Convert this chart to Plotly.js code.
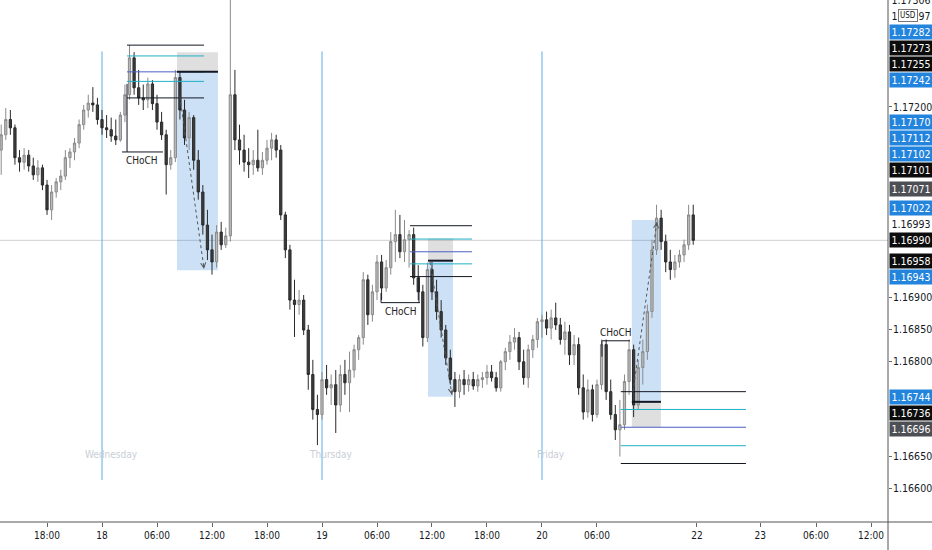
<!DOCTYPE html>
<html>
<head>
<meta charset="utf-8">
<script src="https://cdn.plot.ly/plotly-3.0.1.min.js"></script>
<style>
  html, body { margin: 0; padding: 0; background: #fff; }
  #chart { width: 932px; height: 550px; }
</style>
</head>
<body>
<div id="chart"></div>
<script>
/* EURUSD 30m candles, Tue 13:00 -> Fri 16:30 (x = hours from Wed 00:00)
   with three order-block / CHoCH drawings and the stacked price-axis labels. */

// ---- candles ----
const open = [
  1.17132,1.17156,1.17180,1.17167,1.17120,1.17113,1.17124,1.17107,1.17093,1.17104,
  1.17077,1.17038,1.17066,1.17082,1.17091,1.17120,1.17129,1.17143,1.17172,1.17195,
  1.17206,1.17203,1.17180,1.17167,1.17164,1.17154,1.17148,1.17187,1.17219,1.17277,
  1.17230,1.17214,1.17211,1.17236,1.17205,1.17176,1.17156,1.17109,1.17120,1.17246,
  1.17195,1.17151,1.17183,1.17116,1.17066,1.17014,1.16975,1.16956,1.17003,1.16983,
  1.16997,1.17219,1.17148,1.17132,1.17113,1.17109,1.17116,1.17104,1.17116,1.17135,
  1.17148,1.17132,1.17030,1.16975,1.16896,1.16889,1.16896,1.16849,1.16779,1.16724,
  1.16716,1.16771,1.16758,1.16763,1.16731,1.16779,1.16766,1.16786,1.16818,1.16837,
  1.16928,1.16873,1.16909,1.16956,1.16915,1.16947,1.16988,1.16999,1.16972,1.16991,
  1.16999,1.16931,1.16909,1.16837,1.16944,1.16909,1.16878,1.16849,1.16805,1.16771,
  1.16752,1.16771,1.16763,1.16771,1.16761,1.16771,1.16774,1.16783,1.16774,1.16758,
  1.16799,1.16815,1.16830,1.16837,1.16799,1.16774,1.16818,1.16834,1.16862,1.16865,
  1.16852,1.16868,1.16857,1.16834,1.16846,1.16810,1.16826,1.16758,1.16720,1.16755,
  1.16716,1.16763,1.16826,1.16752,1.16716,1.16692,1.16700,1.16768,1.16818,1.16731,
  1.16790,1.16815,1.16878,1.16975,1.17025,1.16988,1.16956,1.16944,1.16956,1.16967,
  1.16983,1.17030
];
const high = [
  1.17172,1.17198,1.17195,1.17172,1.17132,1.17135,1.17132,1.17120,1.17116,1.17109,
  1.17085,1.17077,1.17088,1.17101,1.17132,1.17135,1.17151,1.17180,1.17203,1.17219,
  1.17231,1.17214,1.17195,1.17187,1.17183,1.17180,1.17192,1.17235,1.17297,1.17286,
  1.17258,1.17235,1.17246,1.17242,1.17219,1.17192,1.17164,1.17132,1.17258,1.17255,
  1.17211,1.17192,1.17187,1.17132,1.17077,1.17038,1.16999,1.17014,1.17019,1.17010,
  1.17400,1.17258,1.17172,1.17156,1.17135,1.17132,1.17164,1.17129,1.17148,1.17159,
  1.17156,1.17140,1.17035,1.16983,1.16928,1.16912,1.16904,1.16857,1.16802,1.16747,
  1.16783,1.16794,1.16779,1.16786,1.16794,1.16802,1.16815,1.16826,1.16841,1.16940,
  1.16936,1.16920,1.16967,1.16967,1.16959,1.17003,1.17038,1.17030,1.17022,1.17006,
  1.17010,1.16951,1.16920,1.16955,1.16956,1.16928,1.16896,1.16857,1.16818,1.16783,
  1.16779,1.16786,1.16779,1.16783,1.16779,1.16783,1.16794,1.16794,1.16783,1.16802,
  1.16821,1.16841,1.16852,1.16846,1.16818,1.16826,1.16841,1.16868,1.16873,1.16878,
  1.16881,1.16892,1.16868,1.16862,1.16857,1.16841,1.16837,1.16779,1.16771,1.16763,
  1.16771,1.16834,1.16834,1.16771,1.16731,1.16739,1.16779,1.16834,1.16826,1.16802,
  1.16834,1.16889,1.16991,1.17046,1.17038,1.16999,1.16975,1.16967,1.16975,1.16991,
  1.17046,1.17046
];
const low = [
  1.17093,1.17148,1.17156,1.17109,1.17098,1.17101,1.17098,1.17085,1.17082,1.17069,
  1.17030,1.17022,1.17057,1.17069,1.17085,1.17104,1.17116,1.17135,1.17164,1.17183,
  1.17192,1.17172,1.17156,1.17151,1.17145,1.17140,1.17145,1.17176,1.17211,1.17219,
  1.17203,1.17195,1.17198,1.17195,1.17164,1.17148,1.17062,1.17101,1.17113,1.17180,
  1.17140,1.17132,1.17101,1.17054,1.16999,1.16959,1.16936,1.16947,1.16975,1.16978,
  1.16988,1.17132,1.17109,1.17098,1.17088,1.17093,1.17098,1.17093,1.17109,1.17116,
  1.17120,1.17022,1.16962,1.16881,1.16838,1.16873,1.16841,1.16755,1.16708,1.16668,
  1.16708,1.16747,1.16731,1.16687,1.16720,1.16747,1.16720,1.16774,1.16802,1.16826,
  1.16857,1.16862,1.16896,1.16896,1.16909,1.16936,1.16956,1.16962,1.16956,1.16947,
  1.16920,1.16896,1.16823,1.16830,1.16896,1.16865,1.16837,1.16794,1.16763,1.16728,
  1.16742,1.16747,1.16752,1.16755,1.16752,1.16758,1.16763,1.16768,1.16752,1.16752,
  1.16786,1.16802,1.16818,1.16786,1.16763,1.16758,1.16805,1.16821,1.16837,1.16841,
  1.16834,1.16849,1.16826,1.16810,1.16794,1.16794,1.16747,1.16708,1.16711,1.16705,
  1.16711,1.16755,1.16739,1.16708,1.16676,1.16650,1.16692,1.16747,1.16712,1.16724,
  1.16763,1.16802,1.16868,1.16967,1.16975,1.16940,1.16928,1.16931,1.16947,1.16956,
  1.16975,1.16983
];
const close = [
  1.17156,1.17180,1.17167,1.17120,1.17113,1.17124,1.17107,1.17093,1.17104,1.17077,
  1.17038,1.17066,1.17082,1.17091,1.17120,1.17129,1.17143,1.17172,1.17195,1.17206,
  1.17203,1.17180,1.17167,1.17164,1.17154,1.17148,1.17187,1.17219,1.17277,1.17230,
  1.17214,1.17211,1.17236,1.17205,1.17176,1.17156,1.17109,1.17120,1.17246,1.17195,
  1.17151,1.17183,1.17116,1.17066,1.17014,1.16975,1.16956,1.17003,1.16983,1.16997,
  1.17219,1.17148,1.17132,1.17113,1.17109,1.17116,1.17104,1.17116,1.17135,1.17148,
  1.17132,1.17030,1.16975,1.16896,1.16889,1.16896,1.16849,1.16779,1.16724,1.16716,
  1.16771,1.16758,1.16763,1.16731,1.16779,1.16766,1.16786,1.16818,1.16837,1.16928,
  1.16873,1.16909,1.16956,1.16915,1.16947,1.16988,1.16999,1.16972,1.16991,1.16999,
  1.16931,1.16909,1.16837,1.16944,1.16909,1.16878,1.16849,1.16805,1.16771,1.16752,
  1.16771,1.16763,1.16771,1.16761,1.16771,1.16774,1.16783,1.16774,1.16758,1.16799,
  1.16815,1.16830,1.16837,1.16799,1.16774,1.16818,1.16834,1.16862,1.16865,1.16852,
  1.16868,1.16857,1.16834,1.16846,1.16810,1.16826,1.16758,1.16720,1.16755,1.16716,
  1.16763,1.16826,1.16752,1.16716,1.16692,1.16700,1.16768,1.16818,1.16731,1.16790,
  1.16815,1.16878,1.16975,1.17025,1.16988,1.16956,1.16944,1.16956,1.16967,1.16983,
  1.17030,1.16990
];
const FIRST_BAR_HOUR = -11;   // Tue 13:00
const BAR_HOURS = 0.5;        // 30-minute bars
const barTime = close.map((_, i) => FIRST_BAR_HOUR + i * BAR_HOURS);

// ---- time axis ----
const xTickVals = [-6, 0, 6, 12, 18, 24, 30, 36, 42, 48, 54, 64.9, 71.8, 77.9, 83.9];
const xTickText = ["18:00", "18", "06:00", "12:00", "18:00", "19", "06:00", "12:00", "18:00", "20", "06:00", "22", "23", "06:00", "12:00"];
const sessionStart = [0, 24, 48];
const sessionName = ["Wednesday", "Thursday", "Friday"];

// ---- price axis ----
const yTickVals = [1.1660, 1.1665, 1.1680, 1.1685, 1.1690, 1.1720];
const lastPrice = 1.16990;
const axisLabels = [1.17306, 1.17297, 1.17282, 1.17273, 1.17255, 1.17242, 1.17170, 1.17112, 1.17102,
  1.17101, 1.17071, 1.17022, 1.16993, 1.16990, 1.16958, 1.16943, 1.16744, 1.16736, 1.16696];
const axisLabelKind = ["plain", "plain", "blue", "black", "black", "blue", "blue", "blue", "blue",
  "black", "grey", "blue", "plain", "black", "black", "blue", "blue", "black", "grey"];

// ---- drawings: one entry per day (Wed, Thu, Fri) ----
const levelStart = [2.73, 33.6, 56.6];
const levelEnd = [11.13, 40.36, 70.25];
const levelsWed = [1.17297, 1.17280, 1.17255, 1.17240, 1.17214];
const levelsThu = [1.17013, 1.16992, 1.16972, 1.16953, 1.16933];
const levelsFri = [1.16752, 1.16724, 1.16696, 1.16667, 1.16639];
const boxStart = [8.18, 35.56, 57.8];
const boxEnd = [12.65, 38.29, 60.98];
const greyTop = [1.17286, 1.16993, 1.16736];
const greyBottom = [1.17255, 1.16958, 1.16696];
const blueTop = [1.17255, 1.16958, 1.17022];
const blueBottom = [1.16943, 1.16744, 1.16736];
const entryLevel = [1.17255, 1.16958, 1.16736];
const moveX0 = [8.5, 35.78, 57.93];
const moveY0 = [1.17216, 1.16956, 1.16752];
const moveX1 = [11.13, 38.18, 60.54];
const moveY1 = [1.16945, 1.16747, 1.17019];
const chochX0 = [2.18, 30.44, 54.54];
const chochX1 = [6.65, 34.69, 57.6];
const chochY = [1.17129, 1.16892, 1.16832];
const chochBelow = [true, true, false];
const tickX = [2.73, 30.44, 34.58, 54.54];
const tickY0 = [1.17236, 1.16907, 1.16933, 1.16832];
const tickY1 = [1.17129, 1.16892, 1.16892, 1.16807];

// ---- styling ----
const W = 932, H = 550;
const M = { l: 0, r: 44, t: 0, b: 28 };
const plotW = W - M.l - M.r, plotH = H - M.t - M.b;
const X_RANGE = [-11.13, 85.75];
const Y_RANGE = [1.16547, 1.17368];
const FONT = "DejaVu Sans Condensed, Liberation Sans Narrow, Arial Narrow, sans-serif";
const INK = "#131722";
const levelColor = [INK, "#1fb1c6", "#4b5fc3", "#1fb1c6", INK];
const labelBg = { blue: "#2284dc", black: "#0c0c0c", grey: "#4d4f55", plain: "#ffffff" };
const LABEL_GAP = 16;

const shapes = [];
const annotations = [];
const line = (x0, y0, x1, y1, color, width, extra) =>
  Object.assign({ type: "line", xref: "x", yref: "y", x0, y0, x1, y1, line: { color, width } }, extra || {});

// boxes under the candles
for (let d = 0; d < 3; d++) {
  shapes.push({ type: "rect", xref: "x", yref: "y", layer: "below", x0: boxStart[d], x1: boxEnd[d],
    y0: blueTop[d], y1: blueBottom[d], fillcolor: "rgba(47,128,216,0.24)", line: { width: 0 } });
  shapes.push({ type: "rect", xref: "x", yref: "y", layer: "below", x0: boxStart[d], x1: boxEnd[d],
    y0: greyTop[d], y1: greyBottom[d], fillcolor: "rgba(150,150,150,0.3)", line: { width: 0 } });
}

// session separators + last price line
sessionStart.forEach((h, d) => {
  shapes.push(line(h, 1.17287, h, 1.16613, "#58b0e6", 1, { layer: "below" }));
  annotations.push({ x: h + 1, y: 1.16653, xref: "x", yref: "y", text: sessionName[d], showarrow: false,
    font: { family: FONT, size: 10, color: "#c9ced6" } });
});
shapes.push({ type: "line", xref: "paper", yref: "y", x0: 0, x1: 1, y0: lastPrice, y1: lastPrice,
  layer: "below", line: { color: "#cfcfcf", width: 1 } });

// level bundles, entry lines, CHoCH brackets
[levelsWed, levelsThu, levelsFri].forEach((lv, d) => {
  lv.forEach((p, j) => shapes.push(line(levelStart[d], p, levelEnd[d], p, levelColor[j], 1)));
  shapes.push(line(boxStart[d], entryLevel[d], boxEnd[d], entryLevel[d], INK, 2));
  shapes.push(line(chochX0[d], chochY[d], chochX1[d], chochY[d], INK, 1));
  annotations.push({ x: (chochX0[d] + chochX1[d]) / 2, y: chochY[d], xref: "x", yref: "y", text: "CHoCH",
    showarrow: false, yanchor: chochBelow[d] ? "top" : "bottom", yshift: chochBelow[d] ? -1 : 1,
    font: { family: FONT, size: 10, color: "#222" } });
});
tickX.forEach((x, i) => shapes.push(line(x, tickY0[i], x, tickY1[i], INK, 1)));

// dashed impulse legs with a small chevron at the end
const kx = plotW / (X_RANGE[1] - X_RANGE[0]);
const ky = plotH / (Y_RANGE[1] - Y_RANGE[0]);
for (let d = 0; d < 3; d++) {
  shapes.push(line(moveX0[d], moveY0[d], moveX1[d], moveY1[d], "#555", 1, { line: { color: "#555", width: 1, dash: "3px,3px" } }));
  const dx = (moveX1[d] - moveX0[d]) * kx, dy = -(moveY1[d] - moveY0[d]) * ky;
  const len = Math.hypot(dx, dy);
  annotations.push({ x: moveX1[d], y: moveY1[d], xref: "x", yref: "y", text: "", showarrow: true,
    arrowhead: 5, arrowsize: 1, arrowwidth: 1, arrowcolor: "#555",
    ax: -dx / len * 6, ay: -dy / len * 6 });
}

// price-axis labels, stacked away from the last price like TradingView does
const toPx = p => (Y_RANGE[1] - p) / (Y_RANGE[1] - Y_RANGE[0]) * plotH;
const items = axisLabels.map((v, i) => ({ v, kind: axisLabelKind[i], px: toPx(v) }))
  .sort((a, b) => a.px - b.px);
const k = items.findIndex(o => o.v === lastPrice);
items[k].pos = items[k].px;
for (let i = k - 1; i >= 0; i--) items[i].pos = Math.min(items[i].px, items[i + 1].pos - LABEL_GAP);
for (let i = k + 1; i < items.length; i++) items[i].pos = Math.max(items[i].px, items[i - 1].pos + LABEL_GAP);
items.forEach(o => {
  annotations.push({ xref: "paper", yref: "paper", x: 1, xanchor: "left", xshift: 1,
    y: 1 - o.pos / plotH, yanchor: "middle", text: o.v.toFixed(5), showarrow: false,
    bgcolor: labelBg[o.kind], width: 42, height: 14, borderpad: 0,
    font: { family: FONT, size: 10.5, color: o.kind === "plain" ? INK : "#ffffff" } });
});
annotations.push({ xref: "paper", yref: "paper", x: 908 / plotW, xanchor: "center",
  y: 1 - 15 / plotH, yanchor: "middle", text: "USD",
  showarrow: false, bgcolor: "#ffffff", bordercolor: "#777", borderwidth: 1, borderpad: 1,
  font: { family: FONT, size: 8, color: INK } });

// axis frame lines that run past the plot area
shapes.push({ type: "line", xref: "paper", yref: "paper", x0: 1, x1: 1, y0: -M.b / plotH, y1: 1,
  line: { color: "#555", width: 1 } });
shapes.push({ type: "line", xref: "paper", yref: "paper", x0: 0, x1: W / plotW, y0: 0, y1: 0,
  line: { color: "#555", width: 1 } });

const candles = {
  type: "candlestick",
  x: barTime, open, high, low, close,
  increasing: { line: { color: "#8a8a8a", width: 1 }, fillcolor: "#b9b9b9" },
  decreasing: { line: { color: "#2a2a2a", width: 1 }, fillcolor: "#3c3c3c" },
  whiskerwidth: 0,
  hoverinfo: "skip",
  showlegend: false,
};

Plotly.newPlot("chart", [candles], {
  width: W, height: H,
  margin: M,
  paper_bgcolor: "#ffffff",
  plot_bgcolor: "#ffffff",
  showlegend: false,
  font: { family: FONT, size: 10, color: INK },
  xaxis: {
    range: X_RANGE, rangeslider: { visible: false }, automargin: false,
    showgrid: false, zeroline: false, showline: false,
    tickmode: "array", tickvals: xTickVals, ticktext: xTickText,
    ticks: "outside", ticklen: 4, tickcolor: "#666",
    tickfont: { family: FONT, size: 10, color: INK },
  },
  yaxis: {
    range: Y_RANGE, side: "right", automargin: false,
    showgrid: false, zeroline: false, showline: false,
    tickmode: "array", tickvals: yTickVals, ticktext: yTickVals.map(v => v.toFixed(5)),
    ticks: "outside", ticklen: 3, tickcolor: "#666", ticklabelstandoff: -1,
    tickfont: { family: FONT, size: 10.5, color: INK },
  },
  shapes, annotations,
}, { displayModeBar: false, staticPlot: true });
</script>
</body>
</html>
